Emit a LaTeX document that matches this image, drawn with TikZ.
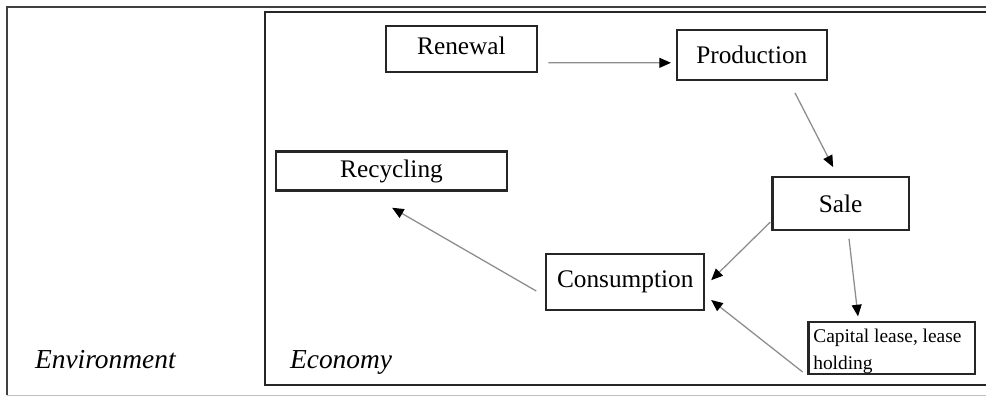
\documentclass[tikz,border=0pt]{standalone}
\usepackage{fontspec}
\setmainfont{Liberation Serif}
\usetikzlibrary{arrows.meta}
\begin{document}
\begin{tikzpicture}[line width=1pt,
    stage/.style={draw=black!85,inner sep=0pt,font=\fontsize{12}{14}\selectfont},
    flow/.style={draw=black!45,line width=0.6pt,
      -{Triangle[length=5.5pt,width=4.7pt,black]}}]
  \useasboundingbox (0,0) rectangle (16.433,6.617);
  % frames
  \draw[black!75] (16.5,6.5) -- (0.117,6.5) -- (0.117,0.033);
  \draw[black!25,line width=0.5pt] (0.117,0.033) -- (16.5,0.033);
  \draw[black!85] (16.5,6.417) -- (4.417,6.417) -- (4.417,0.2) -- (16.5,0.2);
  \node[anchor=base west,font=\fontsize{13}{15}\selectfont\itshape]
    (environment) at (0.45,0.48) {Environment};
  \node[anchor=base west,font=\fontsize{13}{15}\selectfont\itshape]
    (economy) at (4.7,0.48) {Economy};
  % stages
  \node[stage,minimum width=2.52cm,minimum height=0.77cm,text depth=0.12cm]
    (renewal) at (7.69,5.80) {Renewal};
  \node[stage,minimum width=2.5cm,minimum height=0.83cm]
    (production) at (12.53,5.70) {Production};
  \node[stage,minimum width=2.27cm,minimum height=0.88cm]
    (sale) at (14.01,3.225) {Sale};
  \node[stage,minimum width=3.85cm,minimum height=0.65cm]
    (recycling) at (6.525,3.767) {Recycling};
  \node[stage,minimum width=2.63cm,minimum height=0.93cm]
    (consumption) at (10.42,1.917) {Consumption};
  \node[stage,minimum width=2.77cm,minimum height=0.88cm]
    (capital) at (14.86,0.817) {};
  \node[anchor=north west,inner sep=0pt,align=left,
    font=\fontsize{9.2}{12.7}\selectfont]
    (capitaltext) at ([shift={(0.08,-0.13)}]capital.north west)
    {Capital lease, lease\\holding};
  % flows
  \draw[flow] ([shift={(0.17,-0.23)}]renewal.east) --
    ([shift={(-0.08,-0.13)}]production.west);
  \draw[flow] ([shift={(0.72,-0.2)}]production.south) --
    ([shift={(-0.125,0.15)}]sale.north);
  \draw[flow] ([shift={(-0.02,-0.31)}]sale.west) --
    ([shift={(0.1,0.03)}]consumption.east);
  \draw[flow] ([shift={(0.14,-0.13)}]sale.south) --
    ([shift={(-0.56,0.07)}]capital.north);
  \draw[flow] ([shift={(-0.08,-0.4)}]capital.west) --
    ([shift={(0.1,-0.3)}]consumption.east);
  \draw[flow] ([shift={(-0.15,-0.15)}]consumption.west) --
    ([shift={(0.01,-0.27)}]recycling.south);
\end{tikzpicture}
\end{document}
